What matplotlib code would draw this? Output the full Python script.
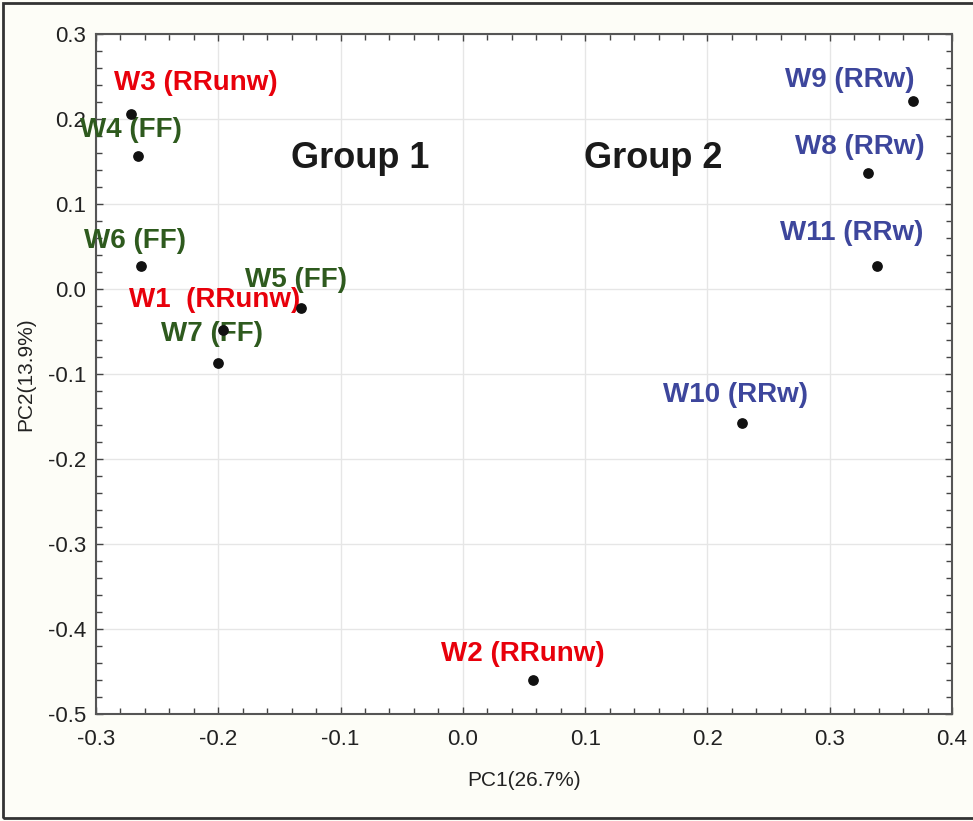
import matplotlib
matplotlib.use('Agg')
import matplotlib.pyplot as plt
from matplotlib.patches import Rectangle

# 데이터 (PCA 점수)
names = ['W1 ', 'W2', 'W3', 'W4', 'W5', 'W6', 'W7', 'W8', 'W9', 'W10', 'W11']
groups = ['RRunw', 'RRunw', 'RRunw', 'FF', 'FF', 'FF', 'FF', 'RRw', 'RRw', 'RRw', 'RRw']
pc1 = [-0.196, 0.057, -0.271, -0.266, -0.132, -0.263, -0.200, 0.331, 0.368, 0.228, 0.339]
pc2 = [-0.048, -0.460, 0.206, 0.157, -0.022, 0.027, -0.087, 0.136, 0.221, -0.158, 0.027]
group_text = ['Group 1', 'Group 2']
group_x = [-0.084, 0.156]
group_y = [0.154, 0.154]

colors = {'RRunw': '#e8000b', 'FF': '#2e5a1e', 'RRw': '#3d469c'}
# 라벨 위치 (픽셀 오프셋)
offsets = [(-9, 30), (-10, 26), (64, 31), (-7, 26), (-5, 28), (-6, 25),
           (-6, 29), (-8, 26), (-63, 21), (-6, 28), (-26, 33)]

plt.rcParams['font.family'] = ['Liberation Sans', 'DejaVu Sans']

fig = plt.figure(figsize=(9.73, 8.21), dpi=100)
fig.patch.set_facecolor('#fdfdf7')
fig.patches.append(Rectangle((3 / 973, 3 / 821), 1.2, 815 / 821, transform=fig.transFigure,
                             fill=False, edgecolor='#333333', linewidth=2))

ax = fig.add_axes([96 / 973, 107 / 821, 856 / 973, 680 / 821])
ax.set_facecolor('white')

ax.scatter(pc1, pc2, s=45, color='#111111', zorder=4)

for n, g, x, y, off in zip(names, groups, pc1, pc2, offsets):
    ax.annotate(n + ' (' + g + ')', (x, y), xytext=off, textcoords='offset pixels',
                ha='center', va='center', fontsize=20, fontweight='bold',
                color=colors[g], zorder=3)

for t, x, y in zip(group_text, group_x, group_y):
    ax.text(x, y, t, ha='center', va='center', fontsize=26, fontweight='bold',
            color='#1a1a1a')

ax.set_xlim(-0.3, 0.4)
ax.set_ylim(-0.5, 0.3)
ax.set_xticks([-0.3, -0.2, -0.1, 0.0, 0.1, 0.2, 0.3, 0.4])
ax.set_yticks([-0.5, -0.4, -0.3, -0.2, -0.1, 0.0, 0.1, 0.2, 0.3])
ax.set_xticklabels(['%.1f' % v for v in ax.get_xticks()])
ax.set_yticklabels(['%.1f' % v for v in ax.get_yticks()])
ax.minorticks_on()
ax.tick_params(which='both', direction='in', top=True, right=True, color='#444444')
ax.tick_params(which='major', length=5, width=1, labelsize=16, labelcolor='#222222')
ax.tick_params(axis='x', which='major', pad=11)
ax.tick_params(axis='y', which='major', pad=7)
ax.tick_params(which='minor', length=4, width=1)
ax.grid(True, which='major', color='#e6e6e6', linewidth=1)
ax.set_axisbelow(True)
for s in ax.spines.values():
    s.set_color('#555555')
    s.set_linewidth(1.5)

ax.set_xlabel('PC1(26.7%)', fontsize=15, color='#222222', labelpad=15)
ax.set_ylabel('PC2(13.9%)', fontsize=15, color='#222222', labelpad=9)

plt.savefig('out.png', dpi=100, facecolor=fig.get_facecolor())
